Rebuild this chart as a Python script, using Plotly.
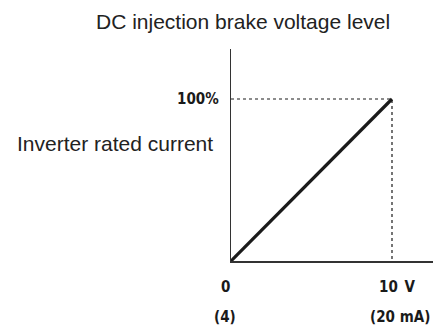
import plotly.graph_objects as go

# Characteristic: analog input (0-10 V / 4-20 mA) vs. brake level (0-100 %)
input_volts = [0, 10]
level_pct = [0, 100]

x_tick_vals = [0, 10]
x_tick_main = ["0", "10\u2002V"]
x_tick_sub = ["(4)", "(20 mA)"]
y_tick_vals = [100]
y_tick_text = ["100%"]

title_text = "DC injection brake voltage level"
y_title_text = "Inverter rated current"

W, H = 433, 327
ax_left, ax_bottom, ax_top = 231, 261, 49
px_per_x = 16.1   # pixels per volt
px_per_y = 1.62   # pixels per percent

x_max = (W - ax_left) / px_per_x
y_max = (ax_bottom - ax_top) / px_per_y

ink = "#1a1a1a"
tick_font = dict(family="DejaVu Sans Condensed, sans-serif", size=15, color=ink)
label_font = dict(family="Liberation Sans, Arial, sans-serif", size=21, color="#222222")

fig = go.Figure()

# guide lines from the full-scale point to both axes
fig.add_trace(go.Scatter(
    x=[0, input_volts[1], input_volts[1]],
    y=[level_pct[1], level_pct[1], 0],
    mode="lines",
    line=dict(color=ink, width=1.2, dash="dot"),
    hoverinfo="skip",
))

# the characteristic itself
fig.add_trace(go.Scatter(
    x=input_volts, y=level_pct, mode="lines",
    line=dict(color=ink, width=3.2),
    hoverinfo="skip",
))

annotations = []
for xv, main, sub in zip(x_tick_vals, x_tick_main, x_tick_sub):
    annotations.append(dict(x=xv, y=0, xref="x", yref="y", text=f"<b>{main}</b>",
                            showarrow=False, font=tick_font, yshift=-26,
                            xshift=-6 if xv == 0 else 5))
    annotations.append(dict(x=xv, y=0, xref="x", yref="y", text=f"<b>{sub}</b>",
                            showarrow=False, font=tick_font, yshift=-56,
                            xshift=-6 if xv == 0 else 8))
for yv, txt in zip(y_tick_vals, y_tick_text):
    annotations.append(dict(x=0, y=yv, xref="x", yref="y", text=f"<b>{txt}</b>",
                            showarrow=False, font=tick_font, xanchor="right",
                            xshift=-10))

annotations.append(dict(x=243 / W, y=1 - 22 / H, xref="paper", yref="paper",
                        text=title_text, showarrow=False, font=label_font,
                        xanchor="center", yanchor="middle"))
annotations.append(dict(x=15 / W, y=1 - 143 / H, xref="paper", yref="paper",
                        text=y_title_text, showarrow=False, font=label_font,
                        xanchor="left", yanchor="middle"))

fig.update_layout(
    width=W, height=H,
    margin=dict(l=0, r=0, t=0, b=0),
    paper_bgcolor="white", plot_bgcolor="white",
    showlegend=False,
    annotations=annotations,
    xaxis=dict(domain=[ax_left / W, 1], range=[0, x_max],
               showgrid=False, zeroline=False, showticklabels=False, ticks="",
               showline=True, linecolor="#333333", linewidth=2),
    yaxis=dict(domain=[1 - ax_bottom / H, 1 - ax_top / H], range=[0, y_max],
               showgrid=False, zeroline=False, showticklabels=False, ticks="",
               showline=True, linecolor="#333333", linewidth=1.2),
)

fig.write_html("out.html")
